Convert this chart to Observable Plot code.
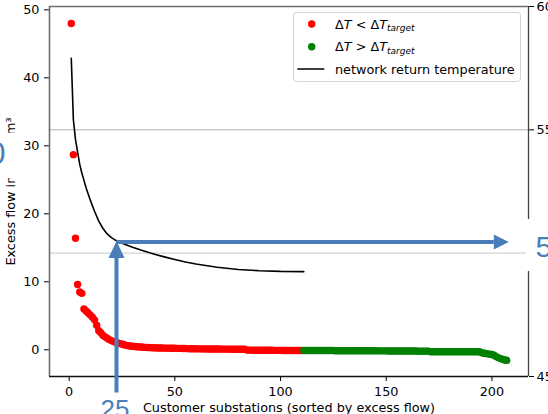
<!DOCTYPE html>
<html><head><meta charset="utf-8">
<script src="https://cdn.jsdelivr.net/npm/d3@7"></script>
<script src="https://cdn.jsdelivr.net/npm/@observablehq/plot@0.6"></script>
<style>
html,body{margin:0;padding:0;background:#fff;overflow:hidden;}
#wrap{position:relative;width:548px;height:414px;overflow:hidden;font-family:"DejaVu Sans",sans-serif;}
#wrap svg.overlay{position:absolute;left:0;top:0;pointer-events:none;}
</style></head>
<body><div id="wrap"></div>
<script>
// Excess flow of substations with dT < dT_target (ranks 1..110)
const flowBelow = [48.0, 28.7, 16.4, 9.6, 8.5, 8.3, 6.0, 5.7, 5.4, 5.1,
  4.8, 4.4, 3.6, 2.8, 2.5, 2.1, 1.9, 1.7, 1.5, 1.35,
  1.2, 1.1, 1.0, 0.9, 0.85, 0.75, 0.65, 0.6, 0.55, 0.5,
  0.48, 0.45, 0.42, 0.4, 0.38, 0.36, 0.34, 0.32, 0.3, 0.3,
  0.28, 0.27, 0.26, 0.26, 0.25, 0.25, 0.24, 0.23, 0.22, 0.22,
  0.21, 0.2, 0.2, 0.19, 0.18, 0.17, 0.16, 0.15, 0.15, 0.14,
  0.14, 0.14, 0.13, 0.13, 0.13, 0.12, 0.12, 0.12, 0.11, 0.11,
  0.11, 0.1, 0.1, 0.1, 0.1, 0.09, 0.09, 0.09, 0.08, 0.08,
  0.08, 0.07, 0.07, -0.05, -0.05, -0.05, -0.06, -0.06, -0.06, -0.07,
  -0.07, -0.07, -0.08, -0.08, -0.08, -0.08, -0.09, -0.09, -0.09, -0.09,
  -0.1, -0.1, -0.1, -0.1, -0.1, -0.1, -0.1, -0.1, -0.1, -0.1];
// Excess flow of substations with dT > dT_target (ranks 111..207)
const flowAbove = [-0.1, -0.1, -0.1, -0.1, -0.1, -0.1, -0.1, -0.1, -0.1, -0.1,
  -0.1, -0.1, -0.1, -0.1, -0.1, -0.15, -0.15, -0.15, -0.15, -0.15,
  -0.15, -0.15, -0.15, -0.15, -0.15, -0.15, -0.15, -0.15, -0.15, -0.15,
  -0.15, -0.15, -0.15, -0.15, -0.15, -0.16, -0.16, -0.16, -0.16, -0.16,
  -0.17, -0.17, -0.17, -0.17, -0.17, -0.18, -0.18, -0.18, -0.18, -0.18,
  -0.19, -0.19, -0.19, -0.19, -0.2, -0.2, -0.2, -0.2, -0.2, -0.2,
  -0.3, -0.3, -0.3, -0.3, -0.3, -0.3, -0.3, -0.3, -0.3, -0.3,
  -0.3, -0.3, -0.3, -0.3, -0.3, -0.3, -0.3, -0.3, -0.3, -0.3,
  -0.3, -0.3, -0.3, -0.3, -0.4, -0.5, -0.55, -0.6, -0.65, -0.7,
  -0.8, -1.0, -1.15, -1.3, -1.4, -1.5, -1.55];
const firstAboveRank = 111;
// network return temperature (right axis, degC) by substation rank
const lineRank = [1, 2, 3, 4, 5, 6, 7, 8, 9, 10, 12, 14, 16, 18, 20, 22, 25, 30, 35, 40, 45, 50, 55, 60, 70, 80, 90, 100, 111];
const lineTemp = [57.9, 55.4, 54.6, 54.1, 53.6, 53.25, 52.95, 52.65, 52.4, 52.15, 51.7, 51.3, 51.0, 50.78, 50.63, 50.52, 50.4, 50.24, 50.1, 49.97, 49.85, 49.74, 49.64, 49.56, 49.43, 49.34, 49.29, 49.26, 49.25];
// ticks
const rankTicks = [0, 50, 100, 150, 200];
const flowTicks = [0, 10, 20, 30, 40, 50];
const tempTicks = [45, 50, 55, 60];
const tempTickLabels = ["45", "", "55", "60"]; // the 50 label is hidden under the annotation box
const gridTemps = [55, 50];
// annotation (arrows) in data units
const annotRank = [22.4];
const annotFlowBottom = [-6.3];
const annotFlowTip = [16.0];
const annotHeadLenFlow = 2.5;
const annotFlowH = [15.85];
const annotRankTip = [208.0];
const annotHeadLenRank = 7.1;

const xDomain = [-9.3, 217.3];
const yDomain = [-3.93, 50.49];
const tDomain = [45, 60];
const toY = t => yDomain[0] + (t - tDomain[0]) * (yDomain[1] - yDomain[0]) / (tDomain[1] - tDomain[0]);
const fromY = y => tDomain[0] + (y - yDomain[0]) * (tDomain[1] - tDomain[0]) / (yDomain[1] - yDomain[0]);

const blue = "#4a7ebb";
const below = flowBelow.map((v, i) => ({rank: i + 1, flow: v}));
const above = flowAbove.map((v, i) => ({rank: i + firstAboveRank, flow: v}));
const tline = lineRank.map((r, i) => ({rank: r, y: toY(lineTemp[i])}));
const vLink = [{x1: annotRank[0], x2: annotRank[0], y1: annotFlowBottom[0], y2: annotFlowTip[0] - annotHeadLenFlow}];
const hLink = [{x1: annotRank[0], x2: annotRankTip[0] - annotHeadLenRank, y1: annotFlowH[0], y2: annotFlowH[0]}];
const upHead = {draw(ctx) { ctx.moveTo(0, 0); ctx.lineTo(-8, 17); ctx.lineTo(8, 17); ctx.closePath(); }};
const rightHead = {draw(ctx) { ctx.moveTo(0, 0); ctx.lineTo(-15, -7.5); ctx.lineTo(-15, 7.5); ctx.closePath(); }};
const tempLabel = d => { const t = Math.round(fromY(d)); return tempTickLabels[tempTicks.indexOf(t)] ?? String(t); };

const chart = Plot.plot({
  width: 548, height: 414,
  marginLeft: 49, marginRight: 20, marginTop: 6, marginBottom: 38,
  style: {fontFamily: "DejaVu Sans, sans-serif", fontSize: "12.8px", color: "black", background: "white", overflow: "visible"},
  x: {domain: xDomain, label: null},
  y: {domain: yDomain, label: null},
  marks: [
    Plot.ruleY([gridTemps[0]], {y: toY, stroke: "#b0b0b0", strokeWidth: 1}),
    Plot.ruleY([gridTemps[1]], {y: toY, stroke: "#d2d2d2", strokeWidth: 1.3}),
    Plot.dot(below, {x: "rank", y: "flow", r: 3.7, fill: "#ff0000"}),
    Plot.dot(above, {x: "rank", y: "flow", r: 3.7, fill: "#008000"}),
    Plot.line(tline, {x: "rank", y: "y", stroke: "black", strokeWidth: 1.6}),
    Plot.axisX({ticks: rankTicks, tickSize: 5, tickPadding: 5, label: null}),
    Plot.axisY({anchor: "left", ticks: flowTicks, tickSize: 5, tickPadding: 5, label: null}),
    Plot.axisY({anchor: "right", ticks: tempTicks.map(toY), tickSize: 5, tickPadding: 3, label: null, tickFormat: tempLabel}),
    Plot.ruleX([xDomain[0]], {stroke: "#6e6e6e", strokeWidth: 1.6}),
    Plot.ruleX([xDomain[1]], {stroke: "#444", strokeWidth: 1.3}),
    Plot.ruleY([yDomain[1]], {stroke: "#6e6e6e", strokeWidth: 1.6}),
    Plot.ruleY([yDomain[0]], {stroke: "#111", strokeWidth: 1.3}),
    Plot.text(["Customer substations (sorted by excess flow)"], {text: d => d, frameAnchor: "bottom", textAnchor: "middle", lineAnchor: "top", dy: 26, fontSize: 12.8}),
    Plot.text(["Excess flow in 1000 m³"], {text: d => d, frameAnchor: "left", textAnchor: "middle", rotate: -90, dx: -39, fontSize: 12.8}),
    Plot.link(vLink, {x1: "x1", x2: "x2", y1: "y1", y2: "y2", stroke: blue, strokeWidth: 4}),
    Plot.link(hLink, {x1: "x1", x2: "x2", y1: "y1", y2: "y2", stroke: blue, strokeWidth: 4}),
    Plot.dot([0], {x: () => annotRank[0], y: () => annotFlowTip[0], symbol: upHead, fill: blue, stroke: "none"}),
    Plot.dot([0], {x: () => annotRankTip[0], y: () => annotFlowH[0], symbol: rightHead, fill: blue, stroke: "none"})
  ]
});
const wrap = document.getElementById("wrap");
wrap.appendChild(chart);

const ns = "http://www.w3.org/2000/svg";
const ov = document.createElementNS(ns, "svg");
ov.setAttribute("class", "overlay");
ov.setAttribute("width", 548); ov.setAttribute("height", 414);
ov.innerHTML = `
  <g font-family="DejaVu Sans, sans-serif" font-size="12.8" fill="black">
    <rect x="293.5" y="12.5" width="227" height="69" rx="3" fill="white" fill-opacity="0.85" stroke="#d3d3d3"/>
    <circle cx="311.7" cy="24" r="3.7" fill="#ff0000"/>
    <circle cx="311.7" cy="46.7" r="3.7" fill="#008000"/>
    <line x1="297.3" x2="324.3" y1="69" y2="69" stroke="black" stroke-width="1.5"/>
    <text x="335" y="28.7">Δ<tspan font-style="italic">T</tspan> &lt; Δ<tspan font-style="italic">T</tspan><tspan font-style="italic" font-size="9" dy="2.5">target</tspan></text>
    <text x="335" y="51.4">Δ<tspan font-style="italic">T</tspan> &gt; Δ<tspan font-style="italic">T</tspan><tspan font-style="italic" font-size="9" dy="2.5">target</tspan></text>
    <text x="335" y="73.7">network return temperature</text>
  </g>
  <g font-family="Liberation Sans, Arial, sans-serif" fill="${blue}">
    <rect x="0" y="133" width="20" height="45" fill="white"/>
    <text x="-12.3" y="164" font-size="32">0</text>
    <rect x="526" y="219" width="22" height="52" fill="white"/>
    <text x="535.5" y="256.5" font-size="30">50</text>
    <text x="100.6" y="417.6" font-size="26">25</text>
  </g>`;
wrap.appendChild(ov);
</script>
</body></html>
